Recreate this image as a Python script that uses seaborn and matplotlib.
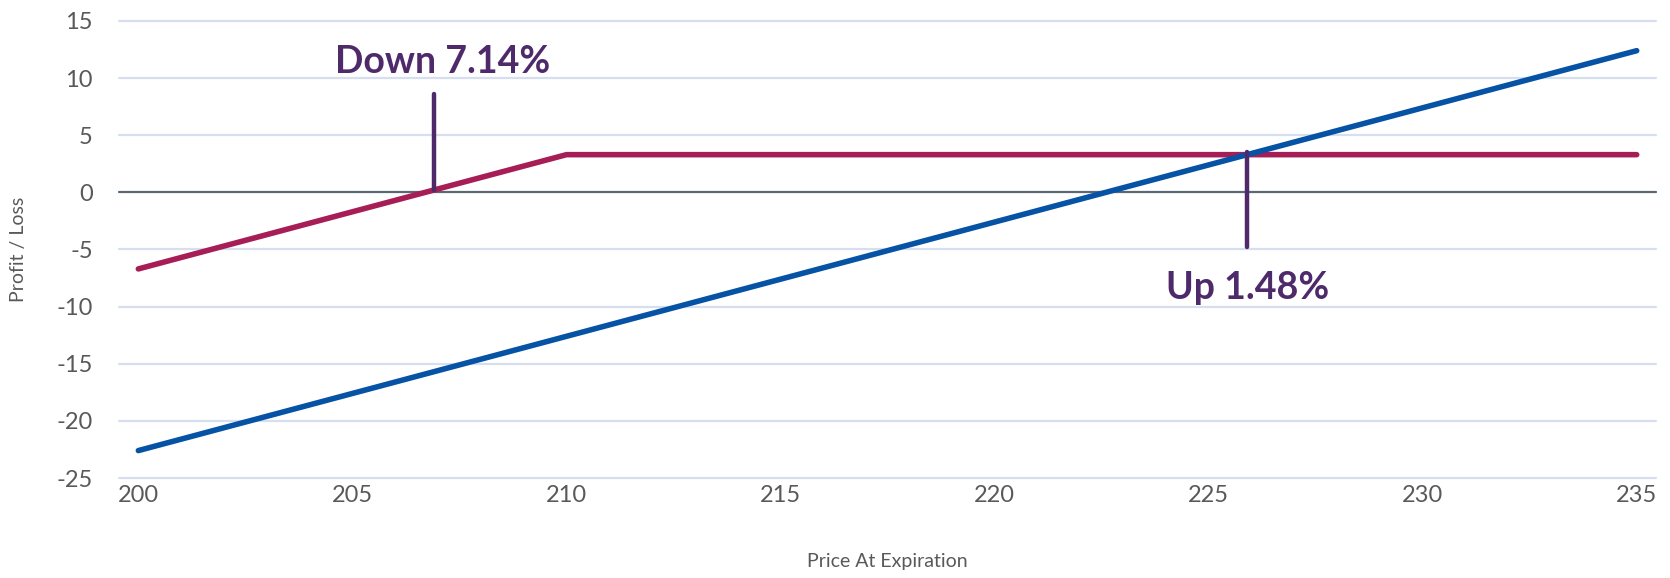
import matplotlib
matplotlib.use('Agg')
import matplotlib.pyplot as plt
import seaborn as sns
import pandas as pd

# payoff vertices
price_red = [200, 210, 235]
pl_red = [-6.7, 3.3, 3.3]
price_blue = [200, 235]
pl_blue = [-22.6, 12.4]

# break-even markers
down_x = 206.9
down_y = [0.2, 8.6]
up_x = 225.9
up_y = [3.5, -4.8]
down_label = 'Down 7.14%'
up_label = 'Up 1.48%'

xticks = [200, 205, 210, 215, 220, 225, 230, 235]
yticks = [-25, -20, -15, -10, -5, 0, 5, 10, 15]

sns.set_style('white')
plt.rcParams['font.family'] = ['Lato', 'DejaVu Sans']
plt.rcParams['axes.unicode_minus'] = False

red = '#A61E55'
blue = '#0652A5'
purple = '#4E2A6B'
grey = '#595959'

fig = plt.figure(figsize=(16.7, 5.78), dpi=100)
ax = fig.add_axes([0.0713, 0.173, 0.9203, 0.7907])

for yy in yticks:
    if yy == 0:
        ax.axhline(yy, color='#5B6677', lw=1.6, zorder=1, clip_on=False)
    else:
        ax.axhline(yy, color='#D6DEF0', lw=1.6, zorder=0, clip_on=False)

red_df = pd.DataFrame({'price': price_red, 'pl': pl_red})
blue_df = pd.DataFrame({'price': price_blue, 'pl': pl_blue})
sns.lineplot(data=red_df, x='price', y='pl', color=red, lw=4.0, ax=ax,
             solid_capstyle='round', zorder=3)
sns.lineplot(data=blue_df, x='price', y='pl', color=blue, lw=4.0, ax=ax,
             solid_capstyle='round', zorder=3)

ax.plot([down_x, down_x], down_y, color=purple, lw=3.2, zorder=4)
ax.plot([up_x, up_x], up_y, color=purple, lw=3.2, zorder=4)
ax.text(207.1, 11.4, down_label, color=purple, fontsize=27, fontweight='bold',
        ha='center', va='center')
ax.text(up_x, -8.4, up_label, color=purple, fontsize=27, fontweight='bold',
        ha='center', va='center')

ax.set_xlim(199.55, 235.45)
ax.set_ylim(-25, 15)
ax.set_xticks(xticks)
ax.set_yticks(yticks)
ax.tick_params(axis='x', labelsize=17, colors=grey, length=0, pad=5)
ax.tick_params(axis='y', labelsize=17, colors=grey, length=0, pad=19)
for s in ax.spines.values():
    s.set_visible(False)

ax.set_xlabel('Price At Expiration', fontsize=14, color=grey)
ax.set_ylabel('Profit / Loss', fontsize=14, color=grey)
ax.xaxis.set_label_coords(0.5, -0.165)
ax.yaxis.set_label_coords(-0.06, 0.5)

fig.savefig('out.png', dpi=100)
